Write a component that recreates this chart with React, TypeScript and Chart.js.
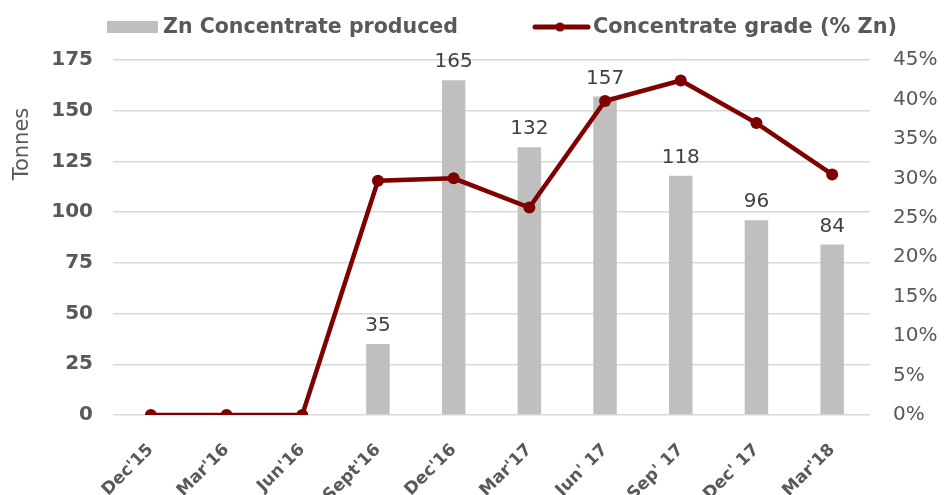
import React, { useEffect, useRef } from "react";
import { Chart, registerables } from "chart.js";

Chart.register(...registerables);

const categories = ["Dec'15", "Mar'16", "Jun'16", "Sept'16", "Dec'16", "Mar'17", "Jun' 17", "Sep' 17", "Dec' 17", "Mar'18"];
const concentrateTonnes = [0, 0, 0, 35, 165, 132, 157, 118, 96, 84];
const gradePct = [0, 0, 0, 0.297, 0.3, 0.263, 0.398, 0.424, 0.37, 0.305];
const barLabel = "Zn Concentrate produced";
const lineLabel = "Concentrate grade (% Zn)";
const yAxisTitle = "Tonnes";

const GREY_TEXT = "#595959";
const BAR_COLOR = "#bfbfbf";
const LINE_COLOR = "#7f0000";

function fitText(ctx: any, text: string, x: number, y: number, width: number) {
  const w = ctx.measureText(text).width;
  const sx = Math.min(1.05, Math.max(0.9, width / w));
  ctx.save();
  ctx.translate(x, y);
  ctx.scale(sx, 1);
  ctx.fillText(text, 0, 0);
  ctx.restore();
}

const customDraw = {
  id: "customDraw",
  afterDatasetsDraw(chart: any) {
    const ctx = chart.ctx;
    const meta = chart.getDatasetMeta(0);
    ctx.save();
    ctx.font = '20px "DejaVu Sans", Verdana, sans-serif';
    ctx.fillStyle = "#404040";
    ctx.textAlign = "center";
    ctx.textBaseline = "bottom";
    meta.data.forEach((el: any, i: number) => {
      const v = chart.data.datasets[0].data[i];
      if (v > 0) ctx.fillText(String(v), el.x, el.y - 8);
    });
    ctx.restore();
  },
  afterDraw(chart: any) {
    const ctx = chart.ctx;
    // y axis title
    ctx.save();
    ctx.translate(23, 144);
    ctx.rotate(-Math.PI / 2);
    ctx.font = '21px "DejaVu Sans", Verdana, sans-serif';
    ctx.fillStyle = GREY_TEXT;
    ctx.textAlign = "center";
    ctx.textBaseline = "middle";
    ctx.fillText(yAxisTitle, 0, 0);
    ctx.restore();

    // legend
    ctx.save();
    const ly = 27;
    ctx.font = 'bold 20.5px "DejaVu Sans", Verdana, sans-serif';
    ctx.textBaseline = "middle";
    ctx.fillStyle = BAR_COLOR;
    ctx.fillRect(107, ly - 6, 51, 12);
    ctx.fillStyle = GREY_TEXT;
    fitText(ctx, chart.data.datasets[0].label, 163, ly + 1, 295);
    ctx.strokeStyle = LINE_COLOR;
    ctx.lineWidth = 5;
    ctx.lineCap = "round";
    ctx.beginPath();
    ctx.moveTo(535, ly);
    ctx.lineTo(588, ly);
    ctx.stroke();
    ctx.fillStyle = LINE_COLOR;
    ctx.beginPath();
    ctx.arc(560, ly, 4.5, 0, Math.PI * 2);
    ctx.fill();
    ctx.fillStyle = GREY_TEXT;
    fitText(ctx, chart.data.datasets[1].label, 593, ly + 1, 304);
    ctx.restore();
  },
};

export default function App() {
  const ref = useRef<HTMLCanvasElement>(null);
  useEffect(() => {
    document.body.style.margin = "0";
    const chart = new Chart(ref.current as HTMLCanvasElement, {
      type: "bar",
      data: {
        labels: categories,
        datasets: [
          {
            type: "bar",
            label: barLabel,
            data: concentrateTonnes,
            backgroundColor: BAR_COLOR,
            yAxisID: "y",
            categoryPercentage: 1,
            barPercentage: 0.31,
            order: 1,
          },
          {
            type: "line",
            label: lineLabel,
            data: gradePct,
            borderColor: LINE_COLOR,
            backgroundColor: LINE_COLOR,
            borderWidth: 4.5,
            pointRadius: 6,
            pointBorderWidth: 0,
            pointBackgroundColor: LINE_COLOR,
            yAxisID: "y1",
            tension: 0,
            order: 0,
          } as any,
        ],
      },
      options: {
        responsive: false,
        animation: false,
        layout: { padding: { top: 60, left: 0, right: 0, bottom: 0 } },
        plugins: { legend: { display: false }, tooltip: { enabled: false } },
        scales: {
          x: {
            grid: { display: false },
            border: { display: false },
            ticks: {
              color: GREY_TEXT,
              font: { family: '"DejaVu Sans", Verdana, sans-serif', weight: "bold", size: 17 },
              maxRotation: 45,
              minRotation: 45,
              padding: 17,
            },
            afterFit: (s: any) => {
              s.height = 80;
            },
          },
          y: {
            position: "left",
            min: 0,
            max: 175,
            ticks: {
              stepSize: 25,
              color: GREY_TEXT,
              font: { family: '"DejaVu Sans", Verdana, sans-serif', weight: "bold", size: 20 },
              padding: 20,
            },
            grid: { color: "#d9d9d9", lineWidth: 1.5, drawTicks: false },
            border: { display: false },
            afterFit: (s: any) => {
              s.width = 113;
            },
          },
          y1: {
            position: "right",
            min: 0,
            max: 0.45,
            ticks: {
              stepSize: 0.05,
              color: GREY_TEXT,
              font: { family: '"DejaVu Sans", Verdana, sans-serif', size: 20 },
              padding: 23,
              callback: (v: any) => Math.round(Number(v) * 100) + "%",
            },
            grid: { display: false, drawTicks: false },
            border: { display: false },
            afterFit: (s: any) => {
              s.width = 81;
            },
          },
        },
      },
      plugins: [customDraw],
    });
    return () => chart.destroy();
  }, []);
  return (
    <div style={{ width: 951, height: 495 }}>
      <canvas ref={ref} width={951} height={495} />
    </div>
  );
}
